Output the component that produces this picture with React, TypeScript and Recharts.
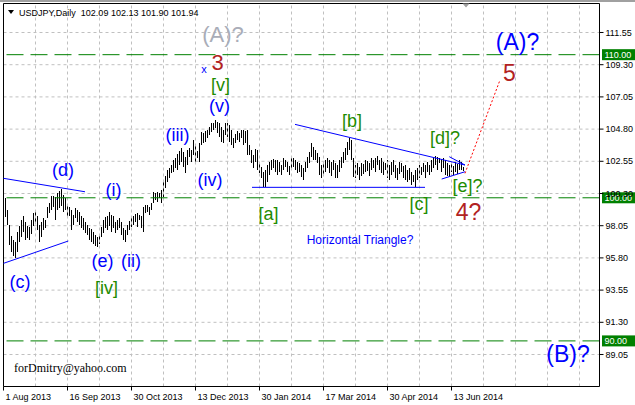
import {
  Bar,
  CartesianGrid,
  ComposedChart,
  ReferenceDot,
  ReferenceLine,
  XAxis,
  YAxis,
} from 'recharts';

// daily bar highs / lows, USDJPY 1 Aug 2013 .. mid Jun 2014
const HIGHS = [
  99.96, 99.12, 98.07, 97.3, 97.02, 96.88, 97.58, 98.0, 98.42, 98.7,
  98.28, 98.0, 97.93, 98.42, 98.91, 99.12, 98.7, 98.07, 98.28, 98.56,
  98.42, 99.33, 99.61, 100.1, 100.1, 100.03, 100.31, 100.45, 100.59, 100.17,
  99.96, 99.4, 99.33, 99.12, 98.77, 99.26, 99.12, 98.98, 98.7, 98.56,
  98.28, 98.07, 97.86, 97.79, 97.58, 97.37, 97.23, 97.44, 97.93, 98.42,
  98.63, 98.7, 98.98, 98.77, 98.7, 98.28, 98.42, 98.56, 98.28, 97.86,
  97.72, 98.07, 98.35, 98.56, 98.7, 98.84, 98.91, 98.77, 98.7, 99.33,
  99.47, 99.47, 99.33, 99.61, 100.38, 100.31, 100.38, 100.31, 100.52, 101.22,
  101.5, 101.92, 102.06, 102.27, 102.62, 102.76, 103.04, 103.25, 103.46, 103.18,
  102.83, 103.32, 103.46, 103.32, 104.02, 103.6, 103.25, 103.81, 104.58, 104.51,
  104.65, 104.72, 104.93, 105.21, 105.21, 105.42, 105.28, 105.21, 104.93, 104.72,
  105.21, 105.21, 105.07, 104.72, 104.16, 104.44, 104.65, 104.51, 104.72, 104.72,
  104.65, 104.72, 103.67, 103.32, 102.97, 103.39, 103.32, 102.48, 102.13, 101.78,
  101.92, 102.27, 102.48, 102.62, 102.69, 102.62, 102.62, 102.48, 102.27, 102.76,
  102.62, 102.48, 102.2, 102.83, 102.76, 102.62, 102.48, 102.41, 102.27, 102.06,
  102.48, 102.83, 103.18, 103.81, 103.53, 103.32, 103.11, 102.83, 102.27, 102.41,
  102.62, 102.76, 102.62, 102.48, 102.62, 102.41, 102.27, 102.62, 102.83, 103.18,
  103.46, 103.88, 104.16, 104.02, 102.76, 102.27, 102.41, 102.13, 102.41, 102.34,
  102.62, 102.55, 102.41, 102.76, 102.62, 102.76, 102.9, 102.62, 102.76, 102.48,
  102.41, 102.62, 102.27, 102.48, 102.62, 102.27, 102.06, 102.48, 102.41, 102.2,
  102.27, 101.92, 102.06, 101.78, 101.57, 101.92, 102.06, 102.27, 102.13, 102.41,
  102.27, 102.48, 102.27, 102.62, 102.76, 102.9, 102.83, 102.76, 102.69, 102.76,
  102.62, 102.41, 102.27, 102.41, 102.2, 102.48, 102.34, 102.62, 102.48, 102.13,
];

const LOWS = [
  98.63, 98.07, 96.67, 96.18, 95.9, 95.76, 96.18, 96.88, 97.23, 97.58,
  97.02, 97.16, 97.02, 97.44, 98.0, 98.28, 97.72, 96.88, 97.23, 97.72,
  97.86, 98.56, 98.91, 99.12, 99.33, 98.42, 99.12, 99.26, 99.4, 98.98,
  99.12, 98.56, 98.7, 97.72, 98.07, 98.56, 98.28, 98.07, 97.86, 97.72,
  97.51, 97.37, 97.02, 96.88, 96.74, 96.6, 96.53, 96.74, 97.23, 97.51,
  97.86, 97.72, 98.0, 97.58, 97.86, 97.51, 97.72, 97.86, 97.37, 97.02,
  96.88, 97.37, 97.72, 97.93, 98.07, 98.28, 97.93, 98.42, 97.86, 97.58,
  98.91, 98.98, 98.77, 99.12, 99.61, 99.82, 99.68, 99.96, 99.61, 100.03,
  100.66, 101.08, 101.36, 101.71, 101.78, 102.06, 101.92, 102.27, 102.48, 102.13,
  101.71, 102.27, 102.83, 102.48, 102.97, 102.48, 102.76, 102.48, 103.67, 103.81,
  103.88, 104.16, 104.37, 104.58, 104.72, 104.86, 104.51, 104.23, 103.88, 103.81,
  104.37, 104.23, 103.88, 103.67, 103.46, 103.81, 104.02, 103.88, 104.16, 103.67,
  103.81, 102.97, 102.97, 102.41, 102.06, 102.48, 101.92, 101.71, 101.36, 100.73,
  100.73, 101.08, 101.57, 101.92, 102.06, 101.78, 101.57, 101.78, 101.57, 101.92,
  102.13, 101.78, 101.57, 102.06, 102.13, 101.92, 101.71, 101.78, 101.43, 101.22,
  101.78, 102.06, 102.41, 102.83, 102.62, 102.62, 102.41, 101.57, 101.36, 101.57,
  101.78, 102.06, 101.71, 101.5, 101.92, 101.36, 101.36, 101.78, 102.06, 102.41,
  102.62, 102.97, 103.32, 102.62, 101.43, 101.36, 101.57, 101.22, 101.5, 101.64,
  101.78, 101.85, 101.5, 101.92, 102.06, 101.78, 102.27, 101.92, 101.71, 101.57,
  101.92, 101.36, 101.22, 101.57, 101.78, 101.36, 101.22, 101.64, 101.78, 101.36,
  101.22, 101.08, 101.22, 100.87, 101.08, 100.73, 101.22, 101.36, 101.57, 101.78,
  101.36, 101.78, 101.57, 101.78, 102.06, 102.27, 101.92, 102.41, 101.78, 102.06,
  101.57, 101.5, 101.43, 101.78, 101.57, 101.78, 101.64, 101.92, 101.92, 101.9,
];

const PRICE_TICKS = [111.55, 109.3, 107.05, 104.8, 102.55, 100.3, 98.05, 95.8, 93.55, 91.3, 89.05];
const DATE_TICKS = [-1, 31, 63, 95, 127, 159, 191, 223];
const DATE_LABELS = [
  '1 Aug 2013',
  '16 Sep 2013',
  '30 Oct 2013',
  '13 Dec 2013',
  '30 Jan 2014',
  '17 Mar 2014',
  '30 Apr 2014',
  '13 Jun 2014',
];
const GRID_X = [15, 31, 47, 63, 79, 95, 111, 127, 143, 159, 175, 191, 207, 223, 239, 255, 271, 287];
const LEVELS = [110, 100, 90];

const X_DOMAIN: [number, number] = [-1, 297];
const Y_DOMAIN: [number, number] = [86.814, 113.576];

const BLUE = '#0000ff';
const GREEN = '#1e8c00';
const RED = '#b22222';
const GRAY = '#a9adb8';
const FONT = '"Liberation Sans", Arial, sans-serif';

// hand drawn lines: [bar, price] -> [bar, price]
const TREND_LINES: { a: [number, number]; b: [number, number]; color: string; dash?: string }[] = [
  { a: [-1, 101.36], b: [39.75, 100.42], color: BLUE },
  { a: [-1, 95.42], b: [31.4, 96.98], color: BLUE },
  { a: [123.25, 100.73], b: [209.75, 100.73], color: BLUE },
  { a: [144.75, 105.13], b: [229.75, 102.29], color: BLUE },
  { a: [221.9, 102.87], b: [229.75, 102.29], color: BLUE },
  { a: [218.1, 101.31], b: [229.75, 101.82], color: BLUE },
  { a: [229.75, 101.71], b: [247.25, 108.23], color: '#ff0000', dash: '2 2' },
];

const WAVE_LABELS: { text: string; bar: number; price: number; color: string; size: number }[] = [
  { text: '(A)?', bar: 108.75, price: 111.44, color: GRAY, size: 22 },
  { text: 'x', bar: 99.25, price: 109.03, color: BLUE, size: 11 },
  { text: '3', bar: 106, price: 109.42, color: RED, size: 22 },
  { text: '[v]', bar: 107.5, price: 107.88, color: GREEN, size: 18 },
  { text: '(v)', bar: 107, price: 106.41, color: BLUE, size: 18 },
  { text: '(iii)', bar: 86, price: 104.39, color: BLUE, size: 18 },
  { text: '(iv)', bar: 102.25, price: 101.24, color: BLUE, size: 18 },
  { text: '(d)', bar: 28.75, price: 101.94, color: BLUE, size: 18 },
  { text: '(i)', bar: 54, price: 100.54, color: BLUE, size: 18 },
  { text: '(e)', bar: 48.5, price: 95.58, color: BLUE, size: 18 },
  { text: '(ii)', bar: 62.75, price: 95.55, color: BLUE, size: 18 },
  { text: '(c)', bar: 7.25, price: 94.11, color: BLUE, size: 18 },
  { text: '[iv]', bar: 50.5, price: 93.69, color: GREEN, size: 18 },
  { text: '[a]', bar: 131.5, price: 98.87, color: GREEN, size: 18 },
  { text: 'Horizontal Triangle?', bar: 177.25, price: 97.05, color: BLUE, size: 12 },
  { text: '[b]', bar: 173.25, price: 105.36, color: GREEN, size: 18 },
  { text: '[d]?', bar: 219.75, price: 104.21, color: GREEN, size: 18 },
  { text: '[e]?', bar: 231, price: 100.82, color: GREEN, size: 18 },
  { text: '[c]', bar: 206.75, price: 99.56, color: GREEN, size: 18 },
  { text: '4?', bar: 231.5, price: 99.04, color: RED, size: 23 },
  { text: '5', bar: 252, price: 108.75, color: RED, size: 23 },
  { text: '(A)?', bar: 256, price: 110.92, color: BLUE, size: 23 },
  { text: '(B)?', bar: 281.25, price: 89.08, color: BLUE, size: 23 },
];

const data = HIGHS.map((high, i) => ({ bar: i, high, low: LOWS[i] }));

function DateTick(props: any) {
  const { x, y, payload } = props;
  const label = DATE_LABELS[DATE_TICKS.indexOf(payload.value)];
  return (
    <text x={x + 2} y={y + 7} fontSize={9} fill="#000" fontFamily={FONT}>
      {label}
    </text>
  );
}

function LevelTag(props: any) {
  const { viewBox, tag } = props;
  if (!viewBox) return null;
  const x = viewBox.x + viewBox.width + 2.5;
  const y = viewBox.y;
  return (
    <g>
      <rect x={x} y={y - 5.5} width={33} height={11} fill="#008000" />
      <text x={x + 2.5} y={y + 3.5} fontSize={9} fill="#ffffff" fontFamily={FONT}>
        {tag}
      </text>
    </g>
  );
}

// thin high-low stick, snapped to the pixel grid
function Stick(props: any) {
  const { x, y, width, height } = props;
  if (x == null || y == null) return null;
  const cx = Math.floor(x + width / 2) + 0.5;
  return (
    <line
      x1={cx}
      x2={cx}
      y1={Math.round(y)}
      y2={Math.round(y + height)}
      stroke="#000"
      strokeWidth={1}
      shapeRendering="crispEdges"
    />
  );
}

export default function App() {
  return (
    <div style={{ position: 'absolute', left: 0, top: 0, width: 635, height: 405, background: '#fff' }}>
      <ComposedChart
        width={635}
        height={405}
        data={data}
        margin={{ top: 3.5, right: 0, bottom: 0, left: 3.5 }}
      >
        <CartesianGrid
          stroke="#c0c0c0"
          strokeDasharray="3 3"
          vertical={false}
        />
        {GRID_X.map((v) => (
          <ReferenceLine key={`g${v}`} x={v} stroke="#c0c0c0" strokeDasharray="3 3" />
        ))}
        <XAxis
          dataKey="bar"
          type="number"
          domain={X_DOMAIN}
          allowDataOverflow
          ticks={DATE_TICKS}
          interval={0}
          height={18.5}
          tickSize={4}
          stroke="#000"
          tick={<DateTick />}
        />
        <YAxis
          orientation="right"
          type="number"
          domain={Y_DOMAIN}
          allowDataOverflow
          ticks={PRICE_TICKS}
          interval={0}
          width={35.5}
          tickSize={4}
          tickMargin={2}
          stroke="#000"
          tickFormatter={(v: number) => v.toFixed(2)}
          tick={{ fontSize: 9, fill: '#000', fontFamily: FONT }}
        />
        <ReferenceLine y={Y_DOMAIN[1]} stroke="#000" />
        <ReferenceLine x={X_DOMAIN[0]} stroke="#000" />
        {LEVELS.map((lv) => (
          <ReferenceLine
            key={`lv${lv}`}
            y={lv}
            stroke="#008000"
            strokeDasharray="17 7"
            label={<LevelTag tag={lv.toFixed(2)} />}
          />
        ))}
        <Bar
          dataKey={(d: any) => [d.low, d.high]}
          barSize={1}
          fill="#000"
          shape={<Stick />}
          isAnimationActive={false}
        />
        {TREND_LINES.map((t, k) => (
          <ReferenceLine
            key={`t${k}`}
            segment={[
              { x: t.a[0], y: t.a[1] },
              { x: t.b[0], y: t.b[1] },
            ]}
            stroke={t.color}
            strokeDasharray={t.dash}
            ifOverflow="visible"
          />
        ))}
        {WAVE_LABELS.map((w, k) => (
          <ReferenceDot
            key={`w${k}`}
            x={w.bar}
            y={w.price}
            r={0}
            ifOverflow="visible"
            shape={(p: any) => (
              <text
                x={p.cx}
                y={p.cy}
                textAnchor="middle"
                dominantBaseline="central"
                fill={w.color}
                fontSize={w.size}
                fontFamily={FONT}
              >
                {w.text}
              </text>
            )}
          />
        ))}
        <ReferenceDot
          x={230.25}
          y={113.5}
          r={0}
          shape={(p: any) => (
            <polygon
              points={`${p.cx - 3.5},${p.cy - 1} ${p.cx + 3.5},${p.cy - 1} ${p.cx},${p.cy + 3}`}
              fill="#a0a0a0"
            />
          )}
        />
      </ComposedChart>
      <svg
        width={635}
        height={405}
        style={{ position: 'absolute', left: 0, top: 0, pointerEvents: 'none' }}
      >
        <rect x={0} y={0} width={635} height={2} fill="#a0a0a0" />
        <polygon points="8,10 14,10 11,14" fill="#000" />
        <text x={19} y={16} fontSize={9} fill="#000" fontFamily={FONT} style={{ whiteSpace: 'pre' }}>
          USDJPY,Daily  102.09 102.13 101.90 101.94
        </text>
        <text x={14} y={372} fontSize={12} fill="#000" fontFamily='"Liberation Serif", "Times New Roman", serif'>
          forDmitry@yahoo.com
        </text>
      </svg>
    </div>
  );
}
